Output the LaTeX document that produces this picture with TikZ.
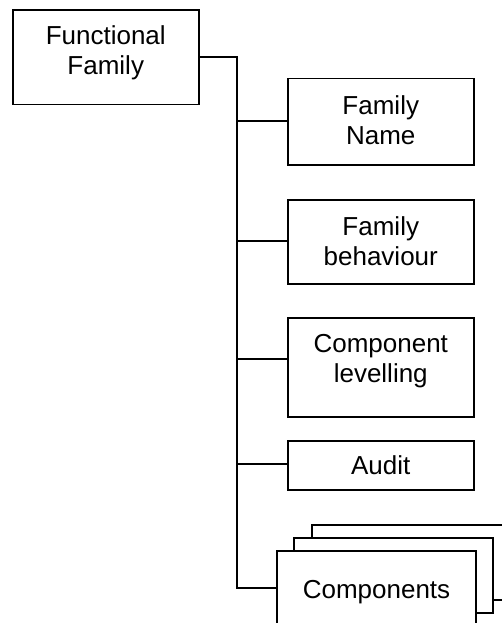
\documentclass[tikz,border=0pt]{standalone}
\usepackage{fontspec}
\setmainfont{Liberation Sans}
\begin{document}
\begin{tikzpicture}[x=1pt,y=-1pt,
  box/.style={draw=black, fill=white, line width=1.5pt, inner sep=0pt, anchor=north west},
  frontbox/.style={box, line width=2pt},
  lbl/.style={inner sep=0pt, anchor=north, align=center, font=\fontsize{26}{30}\selectfont},
  link/.style={draw=black, line width=1.5pt}]
\useasboundingbox (0,0) rectangle (502,623);
\clip (0,0) rectangle (502,623);

% parent box
\node[box, minimum width=186pt, minimum height=94.5pt] (ff) at (12,9.5) {};
\node[lbl] (fft) at ([yshift=-15.5pt]ff.north) {Functional\\Family};

% child boxes
\node[box, minimum width=186pt, minimum height=86pt] (fn) at (287,78) {};
\node[lbl] (fnt) at ([yshift=-17pt]fn.north) {Family\\Name};

\node[box, minimum width=186pt, minimum height=84pt] (fb) at (287,199) {};
\node[lbl] (fbt) at ([yshift=-17pt]fb.north) {Family\\behaviour};

\node[box, minimum width=186pt, minimum height=99pt] (cl) at (287,317) {};
\node[lbl] (clt) at ([yshift=-17pt]cl.north) {Component\\levelling};

\node[box, minimum width=186pt, minimum height=49pt] (au) at (287,440) {};
\node[lbl] (aut) at ([yshift=-15pt]au.north) {Audit};

% stacked component boxes, back to front
\node[box, minimum width=199pt, minimum height=75pt] (cp3) at (311,524) {};
\node[box, minimum width=199pt, minimum height=75pt] (cp2) at (293,537) {};
\node[frontbox, minimum width=199pt, minimum height=75pt] (cp1) at (276,550) {};
\node[lbl] (cpt) at ([yshift=-30pt]cp1.north) {Components};

% trunk and branch points
\coordinate (top) at (237,57);
\coordinate (j1) at (237,121);
\coordinate (j2) at (237,241);
\coordinate (j3) at (237,359);
\coordinate (j4) at (237,464);
\coordinate (j5) at (237,588);

\draw[link] (ff.east |- top) -- (top) -- (j5) -- (cp1.west |- j5);
\draw[link] (j1) -- (fn.west |- j1);
\draw[link] (j2) -- (fb.west |- j2);
\draw[link] (j3) -- (cl.west |- j3);
\draw[link] (j4) -- (au.west |- j4);
\end{tikzpicture}
\end{document}
